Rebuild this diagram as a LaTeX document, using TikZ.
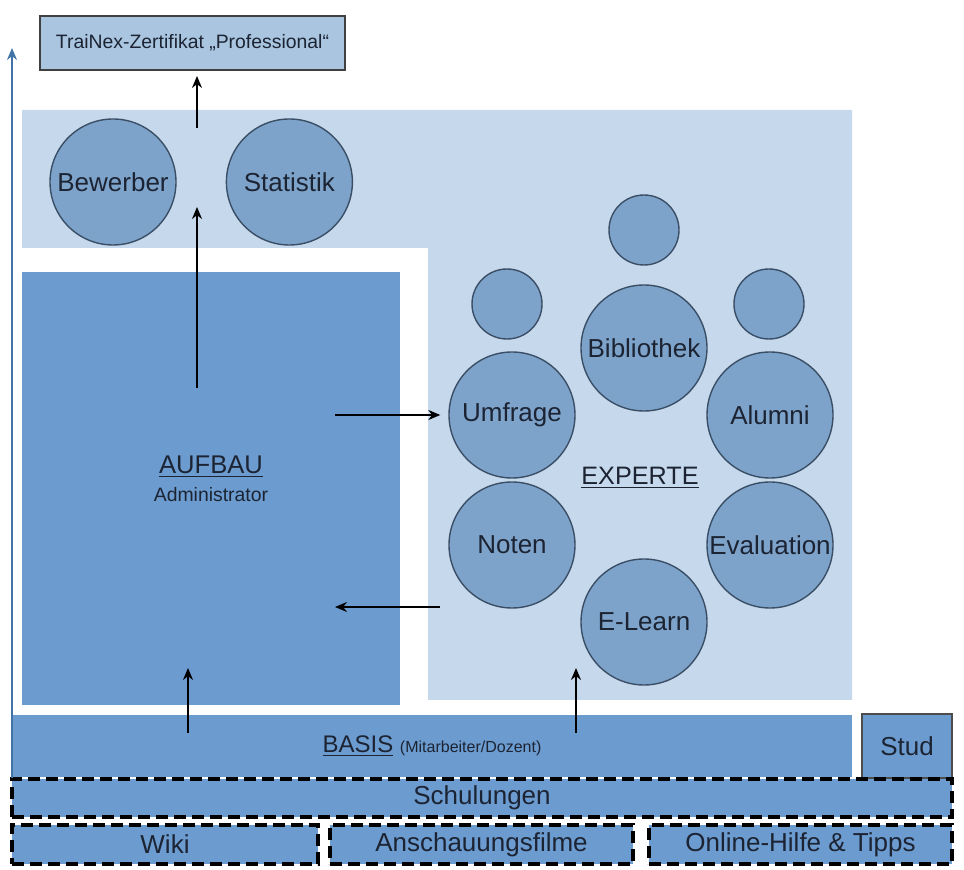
\documentclass[tikz,border=0pt]{standalone}
\usepackage{fontspec}
\setmainfont{Liberation Sans}
\usepackage{xcolor}
\usepackage{tikz}
\usetikzlibrary{positioning,arrows.meta}

\definecolor{panelblue}{HTML}{C6D8EC}
\definecolor{blockblue}{HTML}{6C9BCF}
\definecolor{bubbleblue}{HTML}{7EA3CA}
\definecolor{rim}{HTML}{3A4E66}
\definecolor{certblue}{HTML}{A9C5DF}
\definecolor{axisblue}{HTML}{4273A6}
\definecolor{ink}{HTML}{1C2433}

\begin{document}
\begin{tikzpicture}[
      x=0.5pt, y=-0.5pt,
      every node/.style={font=\fontsize{13}{15}\selectfont, text=ink, align=center},
      bubble/.style={circle, draw=rim, line width=0.7pt, fill=bubbleblue, minimum size=63pt, inner sep=0pt},
      smallbubble/.style={bubble, minimum size=35pt},
      blockbox/.style={rectangle, fill=blockblue, inner sep=0pt},
      dashbox/.style={blockbox, draw=black, dashed, dash pattern=on 6pt off 3pt, line width=1.8pt, minimum height=19.5pt},
      arrow/.style={-{Stealth[length=6pt,width=5pt]}, line width=0.7pt}
    ]
    \useasboundingbox (0,0) rectangle (964,870);

    % background panel (L-shape)
    \fill[panelblue] (22,110) -- (852,110) -- (852,700) -- (428,700) -- (428,248) -- (22,248) -- cycle;

    % certificate
    \node[draw=black!75, line width=1pt, fill=certblue, minimum width=152.5pt, minimum height=27pt,
          font=\fontsize{9.7}{11}\selectfont] (cert) at (192.5,43) {TraiNex-Zertifikat „Professional“};

    % top row
    \node[bubble] (bewerber) at (113,182) {Bewerber};
    \node[bubble] (statistik) [right=24.5pt of bewerber] {Statistik};

    % AUFBAU
    \node[blockbox, minimum width=189pt, minimum height=216.5pt] (aufbau) at (211,488.5) {};
    \node (aufbaulbl) at (211,479) {\fontsize{12.8}{15}\selectfont\underline{AUFBAU}\\[-1pt]{\fontsize{9.7}{11}\selectfont Administrator}};

    % EXPERTE
    \node[smallbubble] (topdot) at (644,230) {};
    \node[smallbubble] (leftdot) at (507,304) {};
    \node[smallbubble] (rightdot) at (769,304) {};
    \node[bubble] (bibliothek) at (644,348) {Bibliothek};
    \node[bubble] (umfrage) at (512,415) {Umfrage};
    \node[bubble] (alumni) at (770,415) {Alumni};
    \node[bubble] (noten) at (512,545) {Noten};
    \node[bubble] (evaluation) at (770,545) {Evaluation};
    \node[bubble] (elearn) at (644,622) {E-Learn};
    \node[font=\fontsize{12.6}{15}\selectfont] (experte) at (640,478) {\underline{EXPERTE}};

    % BASIS and Stud
    \node[blockbox, minimum width=420pt, minimum height=31pt] (basis) at (432,746)
      {\fontsize{12}{14}\selectfont\underline{BASIS} {\fontsize{8}{10}\selectfont (Mitarbeiter/Dozent)}};
    \node[blockbox, draw=black!70, line width=0.6pt, minimum width=45pt, minimum height=32pt] (stud) at (907,746) {Stud};

    % Schulungen and help
    \node[dashbox, minimum width=470pt, minimum height=19pt] (schulungen) at (482,798) {Schulungen};
    \node[dashbox, minimum width=153pt] (wiki) at (165,844.5) {Wiki};
    \node[dashbox, minimum width=151.5pt] (filme) at (481.5,844.5) {Anschauungsfilme};
    \node[dashbox, minimum width=151.5pt] (hilfe) at (800.5,844.5) {Online-Hilfe \& Tipps};

    % free ends
    \coordinate (axbot) at (12,778);
    \coordinate (axtop) at (12,48);
    \coordinate (certfoot) at (197,128);
    \coordinate (aufbautop) at (197,388);
    \coordinate (panelgap) at (197,207);
    \coordinate (aufbauright) at (335,415);
    \coordinate (expertleft) at (440,607);
    \coordinate (aufbaulow) at (335,607);
    \coordinate (basisleft) at (188,733);
    \coordinate (aufbaufoot) at (188,668);
    \coordinate (basismid) at (576,733);
    \coordinate (expertfoot) at (576,668);

    % arrows
    \draw[axisblue, line width=1.2pt, -{Stealth[length=6pt,width=5pt]}] (axbot) -- (axtop);
    \draw[arrow, shorten >=2.5pt] (certfoot) -- (cert.south -| certfoot);
    \draw[arrow] (aufbautop) -- (panelgap);
    \draw[arrow, shorten >=4pt] (aufbauright) -- (umfrage.west |- aufbauright);
    \draw[arrow] (expertleft) -- (aufbaulow);
    \draw[arrow] (basisleft) -- (aufbaufoot);
    \draw[arrow] (basismid) -- (expertfoot);
  \end{tikzpicture}
\end{document}
